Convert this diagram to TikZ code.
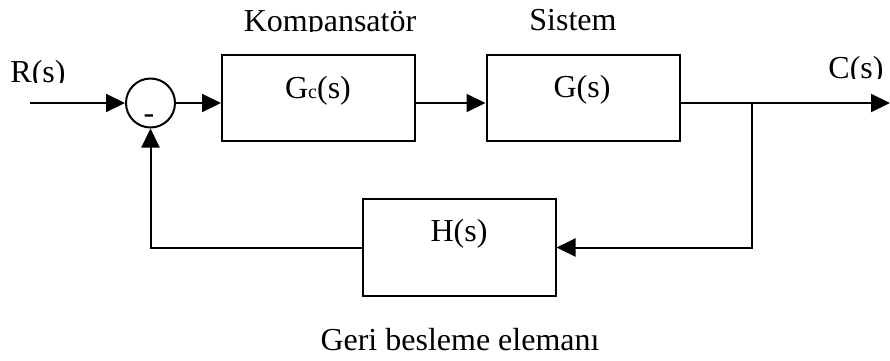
\documentclass[tikz,border=0pt]{standalone}
\usepackage{fontspec}
\setmainfont{Liberation Serif}
\usetikzlibrary{arrows.meta}
\begin{document}
\begin{tikzpicture}[x=1pt,y=-1pt,
  line width=2pt,
  txt/.style={font=\fontsize{32}{35}\selectfont, inner sep=0pt, anchor=base},
  blockbox/.style={draw, minimum width=193pt, minimum height=86pt, inner sep=0pt},
  sumjunction/.style={draw, circle, minimum size=49pt, inner sep=0pt},
  sig/.style={-{Triangle[length=19pt,width=18pt]}}]
\useasboundingbox (0,0) rectangle (890,360);

% blocks
\node[blockbox] (gc) at (318.5,98) {};
\node[blockbox] (g)  at (583,98) {};
\node[blockbox, minimum height=97pt] (h) at (459,247.5) {};
\node[sumjunction] (sum) at (150.5,103) {};

% block labels
\node[txt] (gclabel) at (318,98) {G{\fontsize{20}{20}\selectfont c}(s)};
\node[txt] (glabel)  at (582,97) {G(s)};
\node[txt] (hlabel)  at (459,241) {H(s)};
\node[txt] (minus)   at (149,123) {-};
\node[txt] (fblabel) at (460,350) {Geri besleme elemanı};

% headings and signal names, cut at their baselines
\begin{scope}
  \clip (0,0) rectangle (890,31);
  \node[txt] (komp)   at (330,31) {Kompansatör};
  \node[txt] (sistem) at (573,30) {Sistem};
\end{scope}
\begin{scope}
  \clip (0,0) rectangle (120,82.5);
  \node[txt] (rlabel) at (38,82) {R(s)};
\end{scope}
\begin{scope}
  \clip (800,0) rectangle (890,78.5);
  \node[txt] (clabel) at (856,78) {C(s)};
\end{scope}

% signal path
\coordinate (in) at (30,103);
\coordinate (out) at (890,103);
\coordinate (branch) at (752,103);
\draw[sig] (in) -- (sum.west);
\draw[sig] (sum.east) -- (sum.east -| gc.west);
\draw[sig] (gc.east |- sum) -- (g.west |- sum);
\draw[sig] (g.east |- sum) -- (out);

% feedback loop
\draw[sig] (branch) |- (h.east);
\draw[sig] (h.west) -| (sum.south);
\end{tikzpicture}
\end{document}
